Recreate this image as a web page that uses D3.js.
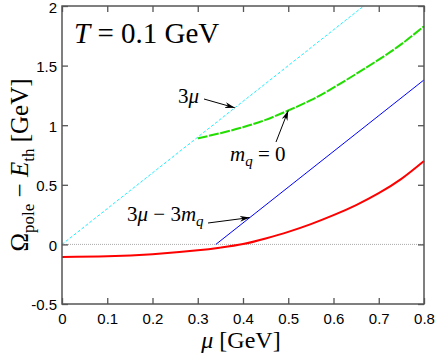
<!DOCTYPE html>
<html>
<head>
<meta charset="utf-8">
<script src="https://cdn.jsdelivr.net/npm/d3@7"></script>
<style>
  body { margin: 0; background: #fff; }
  text { fill: #000; }
  .tick-label { font-family: "Liberation Sans", Arial, sans-serif; font-size: 15px; }
  .serif { font-family: "Liberation Serif", "Times New Roman", serif; }
</style>
</head>
<body>
<div id="chart"></div>
<script>
// data (mu in GeV, value in GeV)
var muRed = [0, 0.1, 0.2, 0.3, 0.35, 0.4, 0.45, 0.5, 0.55, 0.6, 0.65, 0.7, 0.75, 0.8];
var redVals = [-0.105, -0.1, -0.083, -0.05, -0.027, 0.003, 0.05, 0.105, 0.17, 0.245, 0.33, 0.43, 0.55, 0.70];

var muGreen = [0.3, 0.35, 0.4, 0.45, 0.5, 0.55, 0.6, 0.65, 0.7, 0.75, 0.8];
var greenVals = [0.89, 0.933, 0.983, 1.045, 1.123, 1.21, 1.315, 1.43, 1.55, 1.68, 1.83];

var mq = 0.34;
var muBlue = [mq, 0.8];
var muCyan = [0, 2 / 3];

var xTicks = [0, 0.1, 0.2, 0.3, 0.4, 0.5, 0.6, 0.7, 0.8];
var yTicks = [-0.5, 0, 0.5, 1, 1.5, 2];

var width = 436,
    height = 358;

var x = d3.scaleLinear().domain([0, 0.8]).range([62, 424]);
var y = d3.scaleLinear().domain([-0.5, 2]).range([304, 6]);

var svg = d3.select("#chart").append("svg")
    .attr("width", width)
    .attr("height", height);

var line = d3.line()
    .x(function (d) { return x(d[0]); })
    .y(function (d) { return y(d[1]); });

var smooth = d3.line()
    .curve(d3.curveNatural)
    .x(function (d) { return x(d[0]); })
    .y(function (d) { return y(d[1]); });

// zero reference line
svg.append("path")
    .attr("d", line([[0, 0], [0.8, 0]]))
    .attr("stroke", "#aaa")
    .attr("stroke-width", 1)
    .attr("stroke-dasharray", "1,1")
    .attr("fill", "none");

// 3mu (cyan dashed)
svg.append("path")
    .attr("d", line(muCyan.map(function (m) { return [m, 3 * m]; })))
    .attr("stroke", "#22eeff")
    .attr("stroke-width", 1)
    .attr("stroke-dasharray", "3,2")
    .attr("fill", "none");

// 3mu - 3mq (blue)
svg.append("path")
    .attr("d", line(muBlue.map(function (m) { return [m, 3 * m - 3 * mq]; })))
    .attr("stroke", "#0000ff")
    .attr("stroke-width", 1)
    .attr("fill", "none");

// mq = 0 (green long dash)
svg.append("path")
    .attr("d", smooth(muGreen.map(function (m, i) { return [m, greenVals[i]]; })))
    .attr("stroke", "#22dd00")
    .attr("stroke-width", 2)
    .attr("stroke-dasharray", "10,1.5")
    .attr("fill", "none");

// red curve
svg.append("path")
    .attr("d", smooth(muRed.map(function (m, i) { return [m, redVals[i]]; })))
    .attr("stroke", "#ff0000")
    .attr("stroke-width", 2)
    .attr("fill", "none");

// frame and ticks
var axisColor = "#555";
var g = svg.append("g");

function styleAxis(sel) {
    sel.select(".domain").remove();
    sel.selectAll(".tick line").attr("stroke", axisColor).attr("stroke-width", 1.3);
}

g.append("g")
    .attr("transform", "translate(0,304)")
    .call(d3.axisBottom(x).tickValues(xTicks).tickSize(-6).tickPadding(9)
        .tickFormat(function (d) { return d === 0 ? "0" : d3.format(".1f")(d); }))
    .call(styleAxis)
    .selectAll("text").attr("class", "tick-label").attr("fill", "#000");

g.append("g")
    .attr("transform", "translate(0,6)")
    .call(d3.axisTop(x).tickValues(xTicks).tickSize(-6).tickFormat(""))
    .call(styleAxis);

g.append("g")
    .attr("transform", "translate(62,0)")
    .call(d3.axisLeft(y).tickValues(yTicks).tickSize(-6).tickPadding(5)
        .tickFormat(function (d) { return d; }))
    .call(styleAxis)
    .selectAll("text").attr("class", "tick-label").attr("fill", "#000")
    .attr("y", function (d) { return d === 2 ? 2 : 1; });

g.append("g")
    .attr("transform", "translate(424,0)")
    .call(d3.axisRight(y).tickValues(yTicks).tickSize(-6).tickFormat(""))
    .call(styleAxis);

g.append("rect")
    .attr("x", 62).attr("y", 6)
    .attr("width", 362).attr("height", 298)
    .attr("fill", "none")
    .attr("stroke", axisColor)
    .attr("stroke-width", 1.5);

// arrow marker
svg.append("defs").append("marker")
    .attr("id", "arrow")
    .attr("viewBox", "0 0 10 6")
    .attr("refX", 10).attr("refY", 3)
    .attr("markerWidth", 10).attr("markerHeight", 6)
    .attr("markerUnits", "userSpaceOnUse")
    .attr("orient", "auto")
    .append("path")
    .attr("d", "M0,0 L10,3 L0,6 L3,3 Z")
    .attr("fill", "#000");

function arrow(x1, y1, x2, y2) {
    svg.append("line")
        .attr("x1", x1).attr("y1", y1)
        .attr("x2", x2).attr("y2", y2)
        .attr("stroke", "#000")
        .attr("stroke-width", 1)
        .attr("marker-end", "url(#arrow)");
}

// annotations
var t = svg.append("text").attr("class", "serif")
    .attr("x", 74).attr("y", 43).attr("font-size", 29);
t.append("tspan").attr("font-style", "italic").text("T");
t.append("tspan").text(" = 0.1 GeV");

var a1 = svg.append("text").attr("class", "serif")
    .attr("x", 178).attr("y", 103).attr("font-size", 21);
a1.append("tspan").text("3");
a1.append("tspan").attr("font-style", "italic").text("μ");
arrow(204, 99, x(0.382), y(3 * 0.382));

var a2 = svg.append("text").attr("class", "serif")
    .attr("x", 230).attr("y", 161).attr("font-size", 21);
a2.append("tspan").attr("font-style", "italic").text("m");
a2.append("tspan").attr("font-style", "italic").attr("font-size", 15).attr("dy", 5).text("q");
a2.append("tspan").attr("dy", -5).text(" = 0");
arrow(276, 142, x(0.5), y(1.123));

var a3 = svg.append("text").attr("class", "serif")
    .attr("x", 127).attr("y", 221).attr("font-size", 21);
a3.append("tspan").text("3");
a3.append("tspan").attr("font-style", "italic").text("μ");
a3.append("tspan").text(" − 3");
a3.append("tspan").attr("font-style", "italic").text("m");
a3.append("tspan").attr("font-style", "italic").attr("font-size", 15).attr("dy", 5).text("q");
arrow(208, 223, x(0.415), y(3 * (0.415 - mq)));

// axis titles
var xl = svg.append("text").attr("class", "serif")
    .attr("x", 241).attr("y", 348).attr("font-size", 24)
    .attr("text-anchor", "middle");
xl.append("tspan").attr("font-style", "italic").text("μ");
xl.append("tspan").text(" [GeV]");

var yl = svg.append("text").attr("class", "serif")
    .attr("transform", "translate(28,165) rotate(-90)")
    .attr("font-size", 25)
    .attr("text-anchor", "middle");
yl.append("tspan").text("Ω");
yl.append("tspan").attr("font-size", 17).attr("dy", 6).text("pole");
yl.append("tspan").attr("dy", -6).text(" − ");
yl.append("tspan").attr("font-style", "italic").text("E");
yl.append("tspan").attr("font-size", 17).attr("dy", 6).text("th");
yl.append("tspan").attr("dy", -6).text(" [GeV]");
</script>
</body>
</html>
